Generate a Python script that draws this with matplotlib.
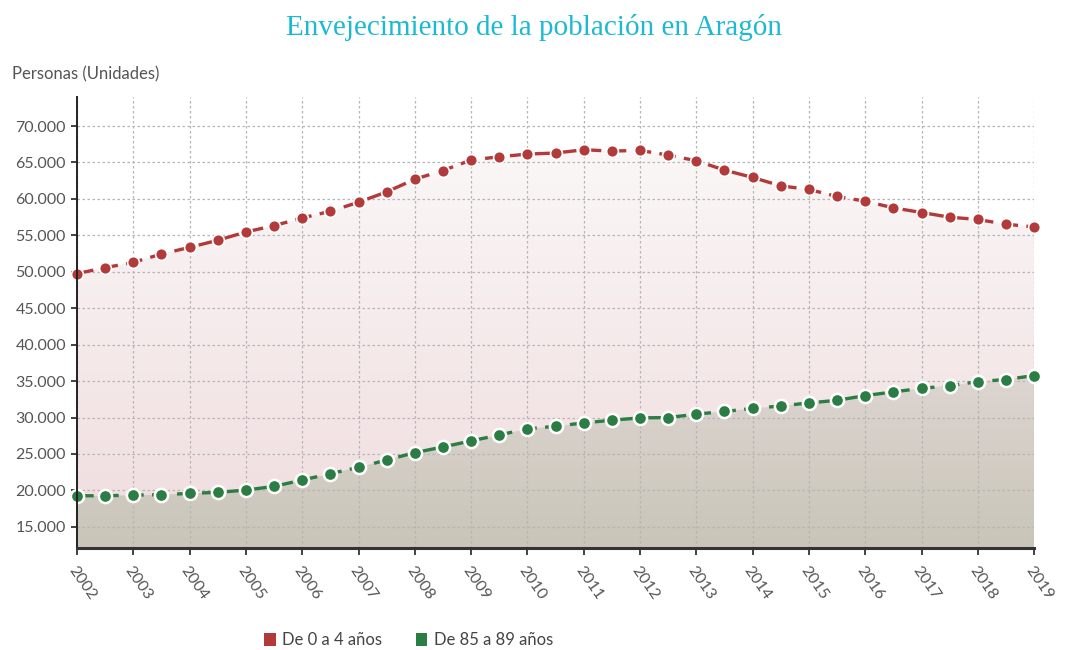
import matplotlib
matplotlib.use("Agg")
import matplotlib.pyplot as plt
import numpy as np
from matplotlib.colors import LinearSegmentedColormap
from matplotlib.patches import Patch

# half-year observations, 2002 .. 2019
years = [2002, 2002.5, 2003, 2003.5, 2004, 2004.5, 2005, 2005.5, 2006, 2006.5,
         2007, 2007.5, 2008, 2008.5, 2009, 2009.5, 2010, 2010.5, 2011, 2011.5,
         2012, 2012.5, 2013, 2013.5, 2014, 2014.5, 2015, 2015.5, 2016, 2016.5,
         2017, 2017.5, 2018, 2018.5, 2019]

# De 0 a 4 años
young = [49750, 50560, 51290, 52430, 53350, 54320, 55460, 56330, 57380, 58300,
         59540, 60960, 62700, 63890, 65330, 65780, 66150, 66290, 66740, 66560,
         66650, 66010, 65230, 63950, 62940, 61790, 61290, 60330, 59680, 58770,
         58130, 57490, 57170, 56520, 56150]

# De 85 a 89 años
old = [19260, 19260, 19350, 19400, 19590, 19730, 20040, 20550, 21420, 22290,
       23170, 24170, 25180, 25960, 26790, 27610, 28440, 28800, 29260, 29630,
       29950, 29990, 30460, 30830, 31240, 31590, 32000, 32360, 33010, 33510,
       34010, 34340, 34930, 35210, 35760]

year_ticks = list(range(2002, 2020))
y_ticks = [15000, 20000, 25000, 30000, 35000, 40000, 45000, 50000,
           55000, 60000, 65000, 70000]
series_names = ["De 0 a 4 años", "De 85 a 89 años"]

red = "#b23a3a"
green = "#2b7d43"
text_gray = "#555555"
ymin, ymax = 12100, 74000

plt.rcParams['font.family'] = ['Lato', 'DejaVu Sans']

fig = plt.figure(figsize=(10.67, 6.5), dpi=100)
ax = fig.add_axes([0.0722, 0.157, 0.8970, 0.694])


def gradient_fill(ax, x, y, c_top, c_bot, zorder):
    poly = ax.fill_between(x, y, ymin, color="none", lw=0, zorder=zorder)
    cmap = LinearSegmentedColormap.from_list("g", [c_bot, c_top])
    grad = np.linspace(0, 1, 256).reshape(-1, 1)
    im = ax.imshow(grad, cmap=cmap, aspect="auto", origin="lower",
                   extent=[x[0], x[-1], ymin, max(y)], zorder=zorder)
    im.set_clip_path(poly.get_paths()[0], transform=ax.transData)


gradient_fill(ax, years, young, "#fbf7f7", "#efdcdd", 1)
gradient_fill(ax, years, old, "#ddd5d1", "#c9c5b8", 2)

ax.set_xlim(2002, 2019)
ax.set_ylim(ymin, ymax)

# grid
ax.set_xticks(year_ticks)
ax.set_yticks(y_ticks)
ax.grid(True, color="#b5b5b5", linestyle=(0, (2, 2)), linewidth=0.9, zorder=3)
ax.set_axisbelow(False)

ax.plot(years, young, color=red, linestyle=(0, (5, 2.5)), linewidth=2.4,
        marker="o", markersize=8.5, markerfacecolor=red,
        markeredgecolor="white", markeredgewidth=1.2, zorder=5,
        clip_on=False)
ax.plot(years, old, color=green, linestyle=(0, (5, 2.5)), linewidth=2.4,
        marker="o", markersize=9.5, markerfacecolor=green,
        markeredgecolor="white", markeredgewidth=1.8, zorder=5,
        clip_on=False)

for side in ["top", "right"]:
    ax.spines[side].set_visible(False)
ax.spines["left"].set_color("#222222")
ax.spines["left"].set_linewidth(1.4)
ax.spines["bottom"].set_color("#333333")
ax.spines["bottom"].set_linewidth(2.2)
ax.spines["left"].set_zorder(6)
ax.spines["bottom"].set_zorder(6)

ax.set_yticklabels([f"{v:,}".replace(",", ".") for v in y_ticks])
ax.set_xticklabels([str(y) for y in year_ticks], rotation=-55,
                   ha="left", va="top", rotation_mode="anchor")
ax.tick_params(axis="y", labelsize=11.5, labelcolor=text_gray, length=4,
               width=1.2, color="#222222", pad=4)
ax.tick_params(axis="x", labelsize=11.5, labelcolor=text_gray, length=5,
               width=1.2, color="#222222", pad=6)

fig.text(0.5, 0.957, "Envejecimiento de la población en Aragón",
         ha="center", va="center", fontsize=21, color="#1bbad0",
         family="Liberation Serif")
fig.text(0.011, 0.885, "Personas (Unidades)", ha="left", va="center",
         fontsize=12, color=text_gray)

handles = [Patch(facecolor=red, edgecolor="none"),
           Patch(facecolor=green, edgecolor="none")]
fig.legend(handles, series_names, loc="center", bbox_to_anchor=(0.383, 0.015),
           ncol=2, frameon=False, fontsize=12, handlelength=0.7,
           handleheight=0.9, handletextpad=0.4, columnspacing=2.0,
           labelcolor="#444444")

fig.savefig("out.png", dpi=100)
